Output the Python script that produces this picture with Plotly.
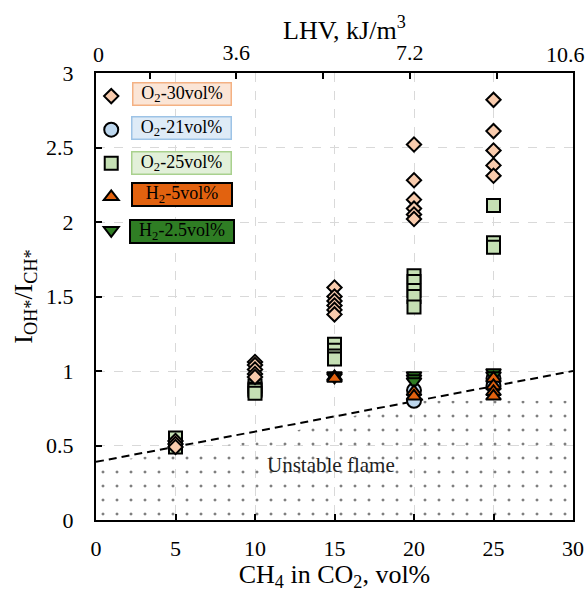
import plotly.graph_objects as go

# ---------------- data ----------------
o2_30_x = [5, 5, 5, 10, 10, 10, 10, 10, 15, 15, 15, 15, 15, 15, 20, 20, 20, 20, 20, 20, 25, 25, 25, 25, 25]
o2_30_y = [0.53, 0.51, 0.49, 1.06, 1.04, 1.01, 0.98, 0.96, 1.56, 1.50, 1.47, 1.44, 1.41, 1.38,
           2.52, 2.28, 2.15, 2.09, 2.05, 2.02, 2.82, 2.61, 2.48, 2.38, 2.31]

o2_21_x = [20, 20, 25, 25]
o2_21_y = [0.87, 0.80, 0.95, 0.90]

o2_25_x = [5, 5, 10, 10, 10, 10, 15, 15, 15, 15, 20, 20, 20, 20, 20, 25, 25, 25]
o2_25_y = [0.55, 0.49, 0.90, 0.88, 0.87, 0.85, 1.18, 1.14, 1.10, 1.08, 1.64, 1.60, 1.54, 1.50, 1.43,
           2.11, 1.86, 1.83]

h2_5_x = [15, 15, 20, 20, 25, 25, 25, 25]
h2_5_y = [0.96, 0.95, 0.86, 0.83, 0.95, 0.90, 0.86, 0.83]

h2_25_x = [15, 15, 20, 20, 20, 25, 25]
h2_25_y = [0.97, 0.96, 0.97, 0.95, 0.93, 0.99, 0.97]

boundary_x = [0, 30]
boundary_y = [0.39, 1.00]

unstable_x = [0, 0, 10, 20, 30, 30, 0]
unstable_y = [0, 0.38, 0.53, 0.80, 0.80, 0, 0]

x_ticks = [0, 5, 10, 15, 20, 25, 30]
y_ticks = [0, 0.5, 1, 1.5, 2, 2.5, 3]
lhv_range = [0.69, 10.585]
lhv_ticks = [1.8, 3.6, 5.4, 7.2, 9.0]
lhv_text = ["", "3.6", "", "7.2", ""]

labels = ["O<sub>2</sub>-30vol%", "O<sub>2</sub>-21vol%", "O<sub>2</sub>-25vol%",
          "H<sub>2</sub>-5vol%", "H<sub>2</sub>-2.5vol%"]

# ---------------- styles ----------------
FONT = "Liberation Serif, Times New Roman, serif"
c_peach, c_blue, c_lgreen, c_orange, c_dgreen = "#f8cbad", "#bdd7ee", "#c5e0b4", "#e2620f", "#2f7d24"
box_fill = ["#fbe5d6", "#deebf7", "#e2f0d9", c_orange, c_dgreen]
box_line = ["#f4b183", "#9dc3e6", "#a9d18e", "#000000", "#000000"]
box_bw = [1.5, 1.5, 1.5, 2, 2]
box_y = [0.9537, 0.8763, 0.7980, 0.7271, 0.6443]
box_w = [97, 98, 98, 98, 102]

fig = go.Figure()

fig.add_trace(go.Scatter(
    x=unstable_x, y=unstable_y, mode="lines", fill="toself",
    fillcolor="rgba(0,0,0,0)", line=dict(width=0),
    fillpattern=dict(shape=".", fgcolor="black", bgcolor="rgba(0,0,0,0)", size=14, solidity=0.036),
    showlegend=False, hoverinfo="skip"))

fig.add_trace(go.Scatter(
    x=boundary_x, y=boundary_y, mode="lines",
    line=dict(color="black", width=2, dash="8px,5px"), showlegend=False, hoverinfo="skip"))

mk_line = dict(color="black", width=2)
fig.add_trace(go.Scatter(x=o2_25_x, y=o2_25_y, mode="markers", name=" ", legendrank=3,
                         marker=dict(symbol="square", size=13, color=c_lgreen, line=mk_line)))
fig.add_trace(go.Scatter(x=o2_21_x, y=o2_21_y, mode="markers", name=" ", legendrank=2,
                         marker=dict(symbol="circle", size=14, color=c_blue, line=mk_line)))
fig.add_trace(go.Scatter(x=h2_25_x, y=h2_25_y, mode="markers", name=" ", legendrank=5,
                         marker=dict(symbol="triangle-down", size=13, color=c_dgreen, line=mk_line)))
fig.add_trace(go.Scatter(x=h2_5_x, y=h2_5_y, mode="markers", name=" ", legendrank=4,
                         marker=dict(symbol="triangle-up", size=13, color=c_orange, line=mk_line)))
fig.add_trace(go.Scatter(x=o2_30_x, y=o2_30_y, mode="markers", name=" ", legendrank=1,
                         marker=dict(symbol="diamond", size=11, color=c_peach, line=mk_line)))

# dummy trace to activate top axis
fig.add_trace(go.Scatter(x=lhv_range, y=[None, None], xaxis="x2", showlegend=False, hoverinfo="skip"))

annotations = []
for i, lab in enumerate(labels):
    annotations.append(dict(
        text=lab, xref="paper", yref="paper", x=0.180, y=box_y[i], xanchor="center", yanchor="middle",
        showarrow=False, font=dict(family=FONT, size=18, color="black"),
        bgcolor=box_fill[i], bordercolor=box_line[i], borderwidth=box_bw[i], borderpad=0,
        width=box_w[i], height=21))

annotations += [
    dict(text="Unstable flame", x=14.75, y=0.37, xref="x", yref="y", showarrow=False,
         font=dict(family=FONT, size=21, color="#222")),
    dict(text="0", xref="paper", yref="paper", x=0.006, y=1.0, xanchor="center", yanchor="bottom",
         yshift=4, showarrow=False, font=dict(family=FONT, size=22, color="black")),
    dict(text="10.6", xref="paper", yref="paper", x=0.985, y=1.0, xanchor="center", yanchor="bottom",
         yshift=4, showarrow=False, font=dict(family=FONT, size=22, color="black")),
    dict(text="LHV, kJ/m<sup>3</sup>", xref="paper", yref="paper", x=0.522, y=1.0,
         xanchor="center", yanchor="middle", yshift=45, showarrow=False,
         font=dict(family=FONT, size=26, color="black")),
]

grid = dict(showgrid=True, gridcolor="#d9d9d9", griddash="dash", gridwidth=1)

fig.update_layout(
    width=587, height=592,
    margin=dict(l=96, r=14, t=73, b=72),
    paper_bgcolor="white", plot_bgcolor="white",
    font=dict(family=FONT, size=22, color="black"),
    showlegend=True,
    legend=dict(x=-0.01, y=0.997, xanchor="left", yanchor="top", font=dict(size=23.5),
                bgcolor="rgba(0,0,0,0)", itemsizing="trace", traceorder="normal"),
    xaxis=dict(range=[0, 30], tickvals=x_ticks, ticks="inside", ticklen=6, tickwidth=2,
               tickcolor="black", showline=True, linecolor="black", linewidth=2, mirror=False,
               zeroline=False, ticklabelstandoff=8, automargin=False,
               title=dict(text="CH<sub>4</sub> in CO<sub>2</sub>, vol%", font=dict(size=26), standoff=6),
               **grid),
    xaxis2=dict(range=lhv_range, overlaying="x", side="top", tickvals=lhv_ticks, ticktext=lhv_text,
                ticks="inside", ticklen=6, tickwidth=2, tickcolor="black", showline=True,
                linecolor="black", linewidth=2, showgrid=False, zeroline=False, ticklabelstandoff=2,
                automargin=False),
    yaxis=dict(range=[0, 3], tickvals=y_ticks, ticks="inside", ticklen=6, tickwidth=2,
               tickcolor="black", showline=True, linecolor="black", linewidth=2, mirror=True,
               zeroline=False, ticklabelstandoff=16, automargin=False,
               title=dict(text="I<sub>OH*</sub>/I<sub>CH*</sub>", font=dict(size=26), standoff=6),
               **grid),
    annotations=annotations,
)

fig.write_html("out.html")
